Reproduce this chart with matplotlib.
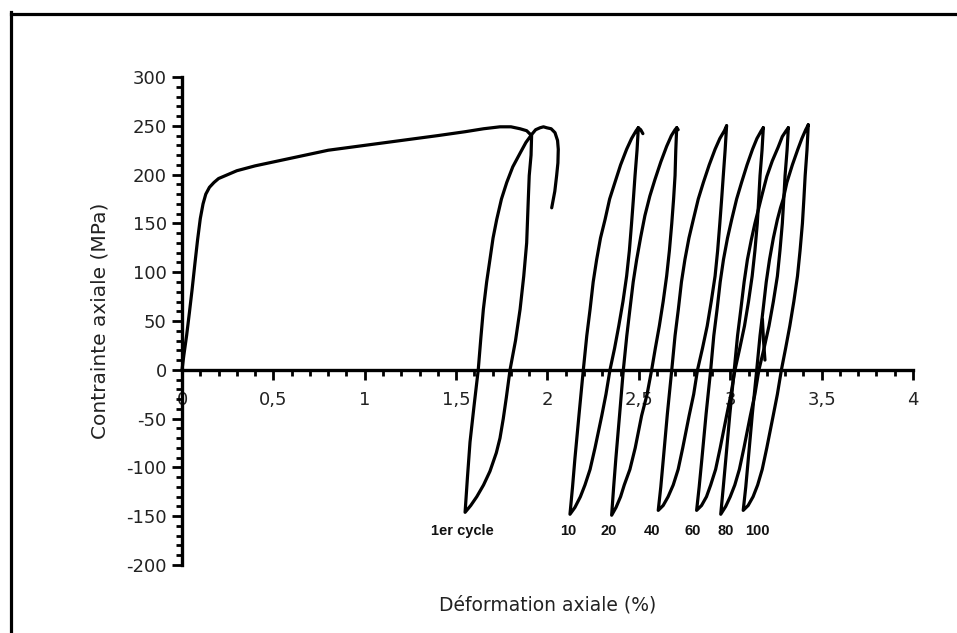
import matplotlib
matplotlib.use("Agg")
import matplotlib.pyplot as plt
from matplotlib.lines import Line2D
from matplotlib.ticker import FixedLocator, MultipleLocator

plt.rcParams["font.family"] = ["DejaVu Sans"]

# monotonic loading followed by the first cycle (strain %, stress MPa)
first_x = [0, 0.01, 0.025, 0.04, 0.055, 0.07, 0.085, 0.1, 0.115, 0.13, 0.15, 0.175,
           0.2, 0.25, 0.3, 0.4, 0.5, 0.65, 0.8, 1.0, 1.2, 1.4, 1.55, 1.65, 1.74,
           1.8, 1.85, 1.886, 1.913,
           1.91, 1.9, 1.895, 1.886, 1.87, 1.85, 1.825, 1.795, 1.775, 1.758, 1.74,
           1.72, 1.685, 1.65, 1.613, 1.58, 1.549,
           1.562, 1.576, 1.598, 1.621, 1.635, 1.649, 1.667, 1.685, 1.702, 1.722,
           1.748, 1.777, 1.81, 1.85, 1.882, 1.913, 1.935, 1.959, 1.978, 1.996,
           2.02, 2.041, 2.055, 2.059, 2.057, 2.05, 2.04, 2.023]
first_y = [0, 15, 35, 58, 82, 108, 133, 155, 170, 180, 187, 192,
           196, 200, 204, 209, 213, 219, 225, 230, 235, 240, 244, 247, 249,
           249, 247, 245, 240,
           220, 199, 175, 130, 96, 62, 30, 0, -28, -50, -70,
           -85, -104, -118, -130, -139, -146,
           -110, -74, -37, 0, 32, 62, 90, 113, 135, 154,
           175, 192, 208, 222, 233, 241, 246, 248, 249, 248,
           247, 243, 235, 226, 212, 199, 183, 166]

# cycle 10
c10_x = [2.497, 2.49, 2.479, 2.47, 2.46, 2.448, 2.433, 2.413, 2.39, 2.367, 2.342,
         2.32, 2.297, 2.26, 2.233, 2.205, 2.18, 2.15, 2.123,
         2.137, 2.15, 2.173, 2.196, 2.215, 2.233, 2.25, 2.269, 2.29, 2.315, 2.34,
         2.369, 2.40, 2.433, 2.46, 2.485, 2.497, 2.51, 2.522]
c10_y = [248, 225, 199, 175, 150, 122, 96, 70, 45, 22, 0,
         -25, -47, -80, -102, -118, -130, -141, -148,
         -120, -91, -45, 0, 35, 62, 90, 113, 135, 154, 175,
         192, 210, 226, 237, 245, 248, 246, 242]

# cycle 20
c20_x = [2.707, 2.702, 2.698, 2.69, 2.68, 2.667, 2.652, 2.633, 2.612, 2.59, 2.57,
         2.545, 2.515, 2.48, 2.451, 2.42, 2.40, 2.375, 2.351,
         2.362, 2.374, 2.395, 2.415, 2.434, 2.451, 2.469, 2.488, 2.51, 2.533, 2.56,
         2.588, 2.62, 2.652, 2.678, 2.698, 2.707, 2.715]
c20_y = [248, 225, 199, 175, 150, 122, 96, 70, 45, 22, 0,
         -25, -47, -80, -102, -118, -130, -141, -149,
         -120, -91, -45, 0, 35, 62, 90, 113, 136, 158, 178,
         195, 213, 229, 240, 246, 248, 246]

# cycle 40
c40_x = [2.98, 2.972, 2.962, 2.953, 2.943, 2.931, 2.917, 2.896, 2.874, 2.848, 2.821,
         2.8, 2.775, 2.74, 2.715, 2.688, 2.66, 2.633, 2.606,
         2.62, 2.634, 2.656, 2.68, 2.698, 2.716, 2.733, 2.752, 2.774, 2.798, 2.825,
         2.853, 2.885, 2.917, 2.943, 2.968, 2.98]
c40_y = [250, 225, 199, 175, 150, 122, 96, 70, 45, 22, 0,
         -25, -47, -80, -102, -118, -130, -139, -144,
         -120, -91, -45, 0, 35, 62, 90, 113, 135, 154, 175,
         192, 210, 226, 237, 245, 250]

# cycle 60
c60_x = [3.181, 3.174, 3.163, 3.156, 3.148, 3.135, 3.12, 3.1, 3.078, 3.052, 3.026,
         3.004, 2.98, 2.945, 2.92, 2.893, 2.87, 2.843, 2.816,
         2.83, 2.845, 2.868, 2.893, 2.91, 2.928, 2.945, 2.963, 2.985, 3.008, 3.035,
         3.062, 3.092, 3.122, 3.146, 3.17, 3.181]
c60_y = [248, 225, 199, 175, 150, 122, 96, 70, 45, 22, 0,
         -25, -47, -80, -102, -118, -130, -139, -144,
         -120, -91, -45, 0, 35, 62, 90, 113, 135, 154, 175,
         192, 210, 226, 237, 245, 248]

# cycle 80
c80_x = [3.318, 3.311, 3.3, 3.293, 3.285, 3.272, 3.258, 3.236, 3.212, 3.185, 3.157,
         3.135, 3.11, 3.075, 3.05, 3.025, 3.0, 2.975, 2.948,
         2.962, 2.976, 2.998, 3.022, 3.04, 3.058, 3.076, 3.094, 3.115, 3.135, 3.155,
         3.175, 3.2, 3.23, 3.262, 3.285, 3.306, 3.318]
c80_y = [248, 225, 199, 175, 150, 122, 96, 70, 45, 22, 0,
         -25, -47, -80, -102, -118, -130, -140, -148,
         -120, -91, -45, 0, 35, 62, 90, 113, 133, 150, 165,
         180, 198, 214, 228, 239, 245, 248]

# cycle 100
c100_x = [3.427, 3.42, 3.41, 3.403, 3.395, 3.382, 3.368, 3.348, 3.326, 3.303, 3.28,
          3.258, 3.235, 3.2, 3.175, 3.15, 3.125, 3.098, 3.071,
          3.085, 3.099, 3.121, 3.145, 3.163, 3.18, 3.197, 3.215, 3.236, 3.258, 3.275,
          3.29, 3.31, 3.34, 3.37, 3.392, 3.413, 3.427]
c100_y = [251, 225, 199, 175, 150, 122, 96, 70, 45, 22, 0,
          -25, -47, -80, -102, -118, -130, -139, -144,
          -120, -91, -45, 0, 35, 62, 90, 113, 135, 154, 166,
          175, 192, 210, 226, 237, 246, 251]

# small spur near 3.18 %
spur_x = [3.176, 3.182, 3.19]
spur_y = [52, 30, 10]

cycle_labels = ["1er cycle", "10", "20", "40", "60", "80", "100"]
label_x = [1.536, 2.114, 2.333, 2.57, 2.792, 2.975, 3.148]
label_y = -165

x_ticks = [0, 0.5, 1, 1.5, 2, 2.5, 3, 3.5, 4]
x_tick_labels = ["0", "0,5", "1", "1,5", "2", "2,5", "3", "3,5", "4"]
y_ticks = [-200, -150, -100, -50, 0, 50, 100, 150, 200, 250, 300]

fig = plt.figure(figsize=(9.57, 6.33), dpi=100)
ax = fig.add_axes([0.1902, 0.1074, 0.7638, 0.7709])

curves = [(first_x, first_y), (c10_x, c10_y), (c20_x, c20_y), (c40_x, c40_y),
          (c60_x, c60_y), (c80_x, c80_y), (c100_x, c100_y), (spur_x, spur_y)]
for xs, ys in curves:
    ax.plot(xs, ys, color="black", lw=2.3, solid_joinstyle="round",
            solid_capstyle="round", clip_on=False, zorder=3)

for lab, lx in zip(cycle_labels, label_x):
    ax.text(lx, label_y, lab, ha="center", va="center", fontsize=10.5,
            fontweight="bold", color="#111111", family="Liberation Sans")

ax.set_xlim(0, 4)
ax.set_ylim(-200, 300)
for side in ("top", "right"):
    ax.spines[side].set_visible(False)
ax.spines["left"].set_position(("data", 0))
ax.spines["bottom"].set_position(("data", 0))
for side in ("left", "bottom"):
    ax.spines[side].set_linewidth(2.4)
    ax.spines[side].set_zorder(4)

ax.xaxis.set_major_locator(FixedLocator(x_ticks))
ax.set_xticklabels(x_tick_labels)
ax.xaxis.set_minor_locator(MultipleLocator(0.1))
ax.yaxis.set_major_locator(FixedLocator(y_ticks))
ax.set_yticklabels([str(v) for v in y_ticks])
ax.yaxis.set_minor_locator(MultipleLocator(10))

ax.tick_params(axis="both", which="major", direction="out", length=7, width=2,
               labelsize=13, labelcolor="#222222")
ax.tick_params(axis="both", which="minor", direction="out", length=4, width=2)
ax.tick_params(axis="x", which="major", pad=8)
ax.tick_params(axis="y", which="major", pad=4)

fig.text(100 / 957, 1 - 321 / 633, "Contrainte axiale (MPa)", rotation=90,
         ha="center", va="center", fontsize=14.5, color="#222222")
fig.text(548 / 957, 1 - 605 / 633, "Déformation axiale (%)",
         ha="center", va="center", fontsize=13.5, color="#222222")

# page frame (top and left edges)
fig.add_artist(Line2D([10.5 / 957, 1], [1 - 13.5 / 633, 1 - 13.5 / 633],
                      transform=fig.transFigure, color="black", lw=2.3))
fig.add_artist(Line2D([10.5 / 957, 10.5 / 957], [0, 1 - 12 / 633],
                      transform=fig.transFigure, color="black", lw=2.3))

fig.savefig("out.png", dpi=100)
